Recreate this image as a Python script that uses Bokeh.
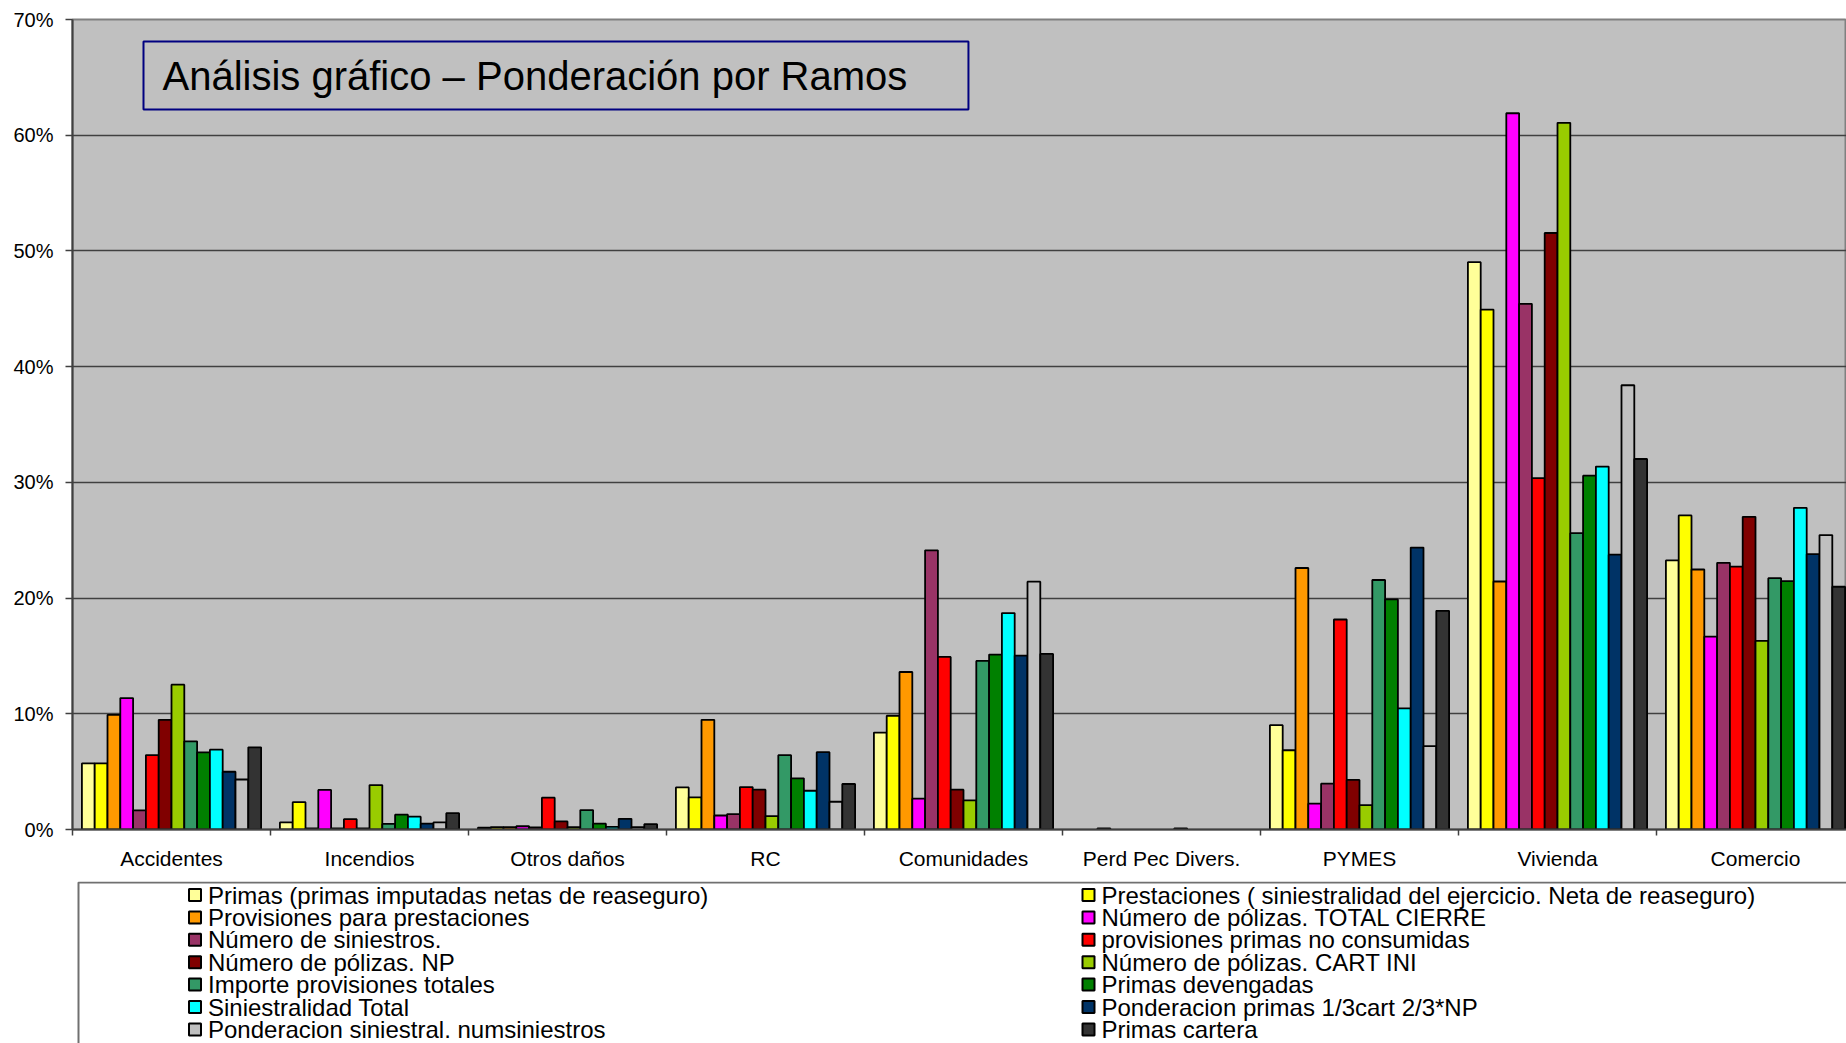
import math
from bokeh.plotting import figure
from bokeh.layouts import column
from bokeh.models import (Range1d, FixedTicker, NumeralTickFormatter, BoxAnnotation,
                          Label, ColumnDataSource)
from bokeh.core.properties import value
from bokeh.embed import file_html
from bokeh.resources import INLINE

FONT = "Liberation Sans"

categories = ["Accidentes", "Incendios", "Otros daños", "RC", "Comunidades",
              "Perd Pec Divers.", "PYMES", "Vivienda", "Comercio"]

series_names = [
    "Primas (primas imputadas netas de reaseguro)",
    "Prestaciones ( siniestralidad del ejercicio. Neta de reaseguro)",
    "Provisiones para prestaciones",
    "Número de pólizas. TOTAL CIERRE",
    "Número de siniestros.",
    "provisiones primas no consumidas",
    "Número de pólizas. NP",
    "Número de pólizas. CART INI",
    "Importe provisiones totales",
    "Primas devengadas",
    "Siniestralidad Total",
    "Ponderacion primas 1/3cart 2/3*NP",
    "Ponderacion siniestral. numsiniestros",
    "Primas cartera",
]

series_colors = ["#FFFF99", "#FFFF00", "#FF9900", "#FF00FF", "#993366", "#FF0000",
                 "#800000", "#99CC00", "#339966", "#008000", "#00FFFF", "#003366",
                 "#C0C0C0", "#333333"]

# values in percent, one list per series, ordered as categories
primas = [5.71, 0.61, 0.15, 3.64, 8.38, 0, 9.02, 49.03, 23.25]
prestaciones = [5.71, 2.36, 0.20, 2.77, 9.83, 0, 6.85, 44.93, 27.14]
provisiones_prest = [9.91, 0.10, 0.20, 9.48, 13.61, 0.10, 22.60, 21.43, 22.47]
polizas_total_cierre = [11.36, 3.42, 0.28, 1.21, 2.66, 0, 2.23, 61.90, 16.67]
num_siniestros = [1.65, 0.10, 0.18, 1.33, 24.13, 0, 3.96, 45.43, 23.05]
prov_primas_no_cons = [6.43, 0.89, 2.75, 3.67, 14.91, 0, 18.15, 30.37, 22.71]
polizas_np = [9.48, 0.10, 0.70, 3.44, 3.44, 0, 4.28, 51.55, 27.02]
polizas_cart_ini = [12.52, 3.84, 0.20, 1.16, 2.51, 0, 2.11, 61.07, 16.30]
importe_prov_tot = [7.62, 0.48, 1.68, 6.42, 14.57, 0.10, 21.56, 25.61, 21.72]
primas_devengadas = [6.67, 1.28, 0.50, 4.42, 15.12, 0, 19.88, 30.58, 21.47]
siniestralidad_total = [6.90, 1.11, 0.23, 3.35, 18.70, 0, 10.46, 31.36, 27.80]
pond_primas = [4.99, 0.50, 0.92, 6.68, 15.03, 0, 24.36, 23.75, 23.79]
pond_siniestral = [4.32, 0.62, 0.20, 2.40, 21.42, 0, 7.20, 38.39, 25.44]
primas_cartera = [7.10, 1.41, 0.46, 3.93, 15.17, 0, 18.90, 32.02, 20.98]

series_values = [primas, prestaciones, provisiones_prest, polizas_total_cierre,
                 num_siniestros, prov_primas_no_cons, polizas_np, polizas_cart_ini,
                 importe_prov_tot, primas_devengadas, siniestralidad_total,
                 pond_primas, pond_siniestral, primas_cartera]

y_ticks = [0, 0.1, 0.2, 0.3, 0.4, 0.5, 0.6, 0.7]
title_text = "Análisis gráfico – Ponderación por Ramos"

# ---------------- main chart ----------------
n_cat = len(categories)
n_ser = len(series_names)
group_frac = 0.905
bar_w = group_frac / n_ser
LEFT = 72
CAT_PX = 198

p = figure(width=1846, height=881, output_backend="svg", toolbar_location=None,
           x_range=Range1d(0, (1846 - LEFT) / CAT_PX), y_range=Range1d(0, 0.7),
           min_border_left=LEFT, min_border_right=0, min_border_top=19,
           min_border_bottom=52,
           background_fill_color="#C0C0C0", border_fill_color="white",
           outline_line_color="#808080", outline_line_width=2)

for s in range(n_ser):
    xs = [c + 0.5 + (s - (n_ser - 1) / 2) * bar_w for c in range(n_cat)]
    tops = [v / 100 if v > 0 else math.nan for v in series_values[s]]
    src = ColumnDataSource(dict(x=xs, top=tops))
    p.vbar(x="x", top="top", bottom=0, width=bar_w, source=src,
           fill_color=series_colors[s], line_color="black", line_width=1.8)

# axes
p.xgrid.grid_line_color = None
p.ygrid.grid_line_color = "#404040"
p.ygrid.grid_line_width = 1.3
p.ygrid.ticker = FixedTicker(ticks=y_ticks)

p.yaxis.ticker = FixedTicker(ticks=y_ticks)
p.yaxis.formatter = NumeralTickFormatter(format="0%")
p.yaxis.axis_line_color = "#404040"
p.yaxis.axis_line_width = 2
p.yaxis.major_tick_line_color = "#404040"
p.yaxis.major_tick_line_width = 1.5
p.yaxis.major_tick_out = 7
p.yaxis.major_tick_in = 0
p.yaxis.minor_tick_line_color = None
p.yaxis.major_label_standoff = 12
p.yaxis.major_label_text_font = FONT
p.yaxis.major_label_text_font_size = "20px"
p.yaxis.major_label_text_color = "black"

centers = [c + 0.5 for c in range(n_cat)]
p.xaxis.ticker = FixedTicker(ticks=centers, minor_ticks=list(range(n_cat + 1)))
p.xaxis.major_label_overrides = {c + 0.5: categories[c] for c in range(n_cat)}
p.xaxis.axis_line_color = "#404040"
p.xaxis.axis_line_width = 2
p.xaxis.major_tick_line_color = None
p.xaxis.major_tick_out = 0
p.xaxis.major_tick_in = 0
p.xaxis.minor_tick_line_color = "#404040"
p.xaxis.minor_tick_line_width = 1.5
p.xaxis.minor_tick_out = 6
p.xaxis.minor_tick_in = 0
p.xaxis.major_label_standoff = 11
p.xaxis.major_label_text_font = FONT
p.xaxis.major_label_text_font_size = "21px"
p.xaxis.major_label_text_color = "black"

# title box inside the plot
p.add_layout(BoxAnnotation(left=0.3586, right=4.525, top=0.681, bottom=0.6222,
                           fill_color=None, fill_alpha=0, line_color="#000080",
                           line_alpha=1, line_width=2))
p.add_layout(Label(x=0.4545, y=0.6516, text=title_text, text_font=FONT,
                   text_font_size="40px", text_color="black", text_baseline="middle",
                   text_align="left"))

# ---------------- legend panel ----------------
L_H = 162
BOX_X = 6  # legend box left edge is 6px right of the chart frame's left edge
lg = figure(width=1846, height=L_H, output_backend="svg", toolbar_location=None,
            x_range=Range1d(-BOX_X, 1846 - LEFT - BOX_X), y_range=Range1d(L_H, 0),
            min_border_left=LEFT, min_border_right=0, min_border_top=0,
            min_border_bottom=0, x_axis_location=None, y_axis_location=None,
            background_fill_color="white", border_fill_color="white",
            outline_line_color=None)
lg.grid.grid_line_color = None

# legend box border (left and top sides; the rest runs off the page)
lg.line(x=[0, 0, 1846], y=[L_H + 5, 1, 1], line_color="#707070", line_width=2)

box_left_page = LEFT + BOX_X
col_x = [194.5 - box_left_page, 1088.0 - box_left_page]
row_y0 = 13.5
row_pitch = 22.4
sw_x = [col_x[i % 2] for i in range(n_ser)]
sw_y = [row_y0 + (i // 2) * row_pitch for i in range(n_ser)]
tx_x = [x + 13.0 for x in sw_x]
leg_src = ColumnDataSource(dict(sx=sw_x, sy=sw_y, tx=tx_x, name=series_names,
                                color=series_colors))
lg.scatter(x="sx", y="sy", marker="square", size=12, fill_color="color",
           line_color="black", line_width=2, source=leg_src)
lg.text(x="tx", y="sy", text="name", text_font=value(FONT), text_font_size="24px",
        text_baseline="middle", text_align="left", text_color="black", source=leg_src)

layout = column(p, lg, spacing=0)
open("out.html", "w").write(file_html(layout, INLINE))
